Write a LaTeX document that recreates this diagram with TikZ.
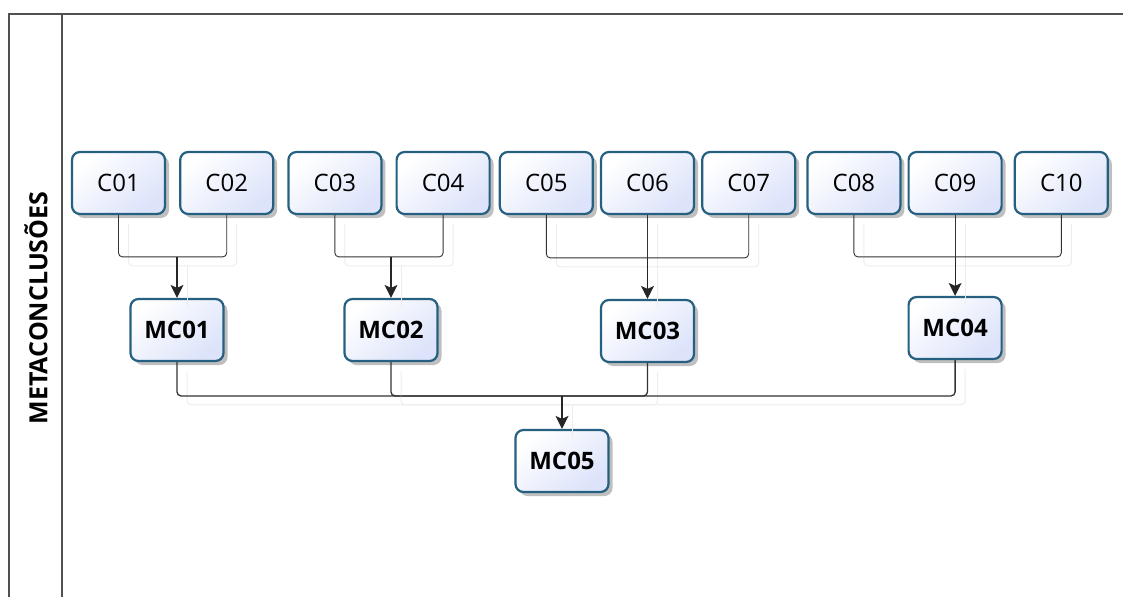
\documentclass[tikz,border=0pt]{standalone}
\usepackage{fontspec}
\setmainfont{Open Sans}
\usetikzlibrary{positioning,shadows,arrows.meta}

\definecolor{boxline}{RGB}{38,96,128}
\definecolor{boxfill}{RGB}{220,227,250}
\definecolor{frameline}{RGB}{80,80,80}

\tikzset{
  cbox/.style={draw=boxline, line width=2.2pt, rounded corners=8pt,
    top color=white, bottom color=boxfill, shading angle=40,
    minimum width=93pt, minimum height=62pt, inner sep=0pt,
    font=\fontsize{24}{28}\selectfont,
    drop shadow={shadow xshift=4pt, shadow yshift=-4pt, fill=black, opacity=.25}},
  mcbox/.style={cbox, font=\fontsize{24}{28}\selectfont\bfseries},
  ghost/.style={preaction={draw=black!7, line width=1pt, arrows=-,
    transform canvas={shift={(10pt,-9pt)}}}},
  link/.style={draw=black!80, line width=.9pt, rounded corners=4pt, ghost},
  arr/.style={draw=black!85, line width=1.1pt, ghost,
    -{Stealth[length=13pt,width=13pt,inset=3pt]}},
  frame/.style={draw=frameline, line width=1.2pt},
}

\begin{document}
\begin{tikzpicture}[x=1pt,y=1pt]

  \useasboundingbox (0,0) rectangle (1123,-597);

  % Lane

  \coordinate (tl) at (9,-14);
  \coordinate (tr) at (1123,-14);
  \coordinate (bl) at (9,-597);
  \coordinate (dt) at (62,-14);
  \coordinate (db) at (62,-597);
  \draw[frame] (bl) |- (tr);
  \draw[frame] (dt) -- (db);
  \node[rotate=90, font=\fontsize{25}{28}\selectfont\bfseries] (lane) at (36,-308) {METACONCLUSÕES};

  % Conclusions

  \node[cbox] (c01) at (118.5,-183) {C01};
  \node[cbox,right=13pt of c01] (c02) {C02};
  \node[cbox,right=13pt of c02] (c03) {C03};
  \node[cbox,right=13pt of c03] (c04) {C04};
  \node[cbox,right=8pt of c04]  (c05) {C05};
  \node[cbox,right=6pt of c05]  (c06) {C06};
  \node[cbox,right=6pt of c06]  (c07) {C07};
  \node[cbox,right=10pt of c07] (c08) {C08};
  \node[cbox,right=6pt of c08]  (c09) {C09};
  \node[cbox,right=11pt of c09] (c10) {C10};

  % Meta-conclusions

  \node[mcbox] (mc01) at (177,-330) {MC01};
  \node[mcbox] (mc02) at (391,-330) {MC02};
  \node[mcbox] (mc03) at (c06 |- 0,-331) {MC03};
  \node[mcbox] (mc04) at (c09 |- 0,-328) {MC04};
  \node[mcbox] (mc05) at (562,-461) {MC05};

  % Junctions

  \coordinate[above=41pt of mc01.north] (j01);
  \coordinate[above=41pt of mc02.north] (j02);
  \coordinate[above=41pt of mc03.north] (j03);
  \coordinate[above=39pt of mc04.north] (j04);
  \coordinate[above=33pt of mc05.north] (j05);

  % Links

  \draw[link] (c01.south) |- (j01);
  \draw[link] (c02.south) |- (j01);
  \draw[arr] (j01) -- (mc01.north);

  \draw[link] (c03.south) |- (j02);
  \draw[link] (c04.south) |- (j02);
  \draw[arr] (j02) -- (mc02.north);

  \draw[link] (c05.south) |- (j03);
  \draw[link] (c06.south) -- (j03);
  \draw[link] (c07.south) |- (j03);
  \draw[arr] (j03) -- (mc03.north);

  \draw[link] (c08.south) |- (j04);
  \draw[link] (c09.south) -- (j04);
  \draw[link] (c10.south) |- (j04);
  \draw[arr] (j04) -- (mc04.north);

  \draw[link,line width=1.3pt] (mc01.south) |- (j05);
  \draw[link,line width=1.3pt] (mc02.south) |- (j05);
  \draw[link,line width=1.3pt] (mc03.south) |- (j05);
  \draw[link,line width=1.3pt] (mc04.south) |- (j05);
  \draw[arr] (j05) -- (mc05.north);

\end{tikzpicture}
\end{document}
